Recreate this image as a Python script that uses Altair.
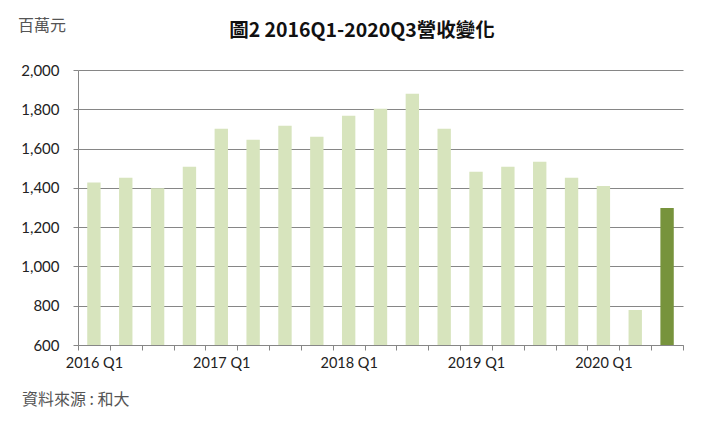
import altair as alt
import pandas as pd

quarters = [f"{y} Q{q}" for y in range(2016, 2021) for q in range(1, 5)][:19]
revenue = [1427, 1451, 1398, 1507, 1701, 1645, 1716, 1660, 1767, 1803,
           1879, 1701, 1482, 1507, 1533, 1451, 1410, 778, 1298]
y_ticks = [600, 800, 1000, 1200, 1400, 1600, 1800, 2000]
title_text = ["圖2 2016Q1-2020Q3營收變化"]
unit_text = ["百萬元"]
source_text = ["資料來源 : 和大"]

df = pd.DataFrame({"quarter": quarters, "revenue": revenue})

LATIN = "Lato"
CJK = "Noto Sans CJK TC"

bars = alt.Chart(df).mark_bar(width=alt.RelativeBandSize(0.42), clip=True).encode(
    x=alt.X("quarter:N", sort=quarters,
            scale=alt.Scale(paddingInner=0, paddingOuter=0),
            axis=alt.Axis(title=None, labelAngle=0, tickBand="extent",
                          labelExpr="indexof(datum.label, 'Q1') > 0 ? datum.label : ''",
                          labelFont=LATIN, labelFontSize=14.5, labelColor="#222",
                          labelPadding=6, labelOverlap=False,
                          domainColor="#868686", tickColor="#868686",
                          tickSize=5, grid=False)),
    y=alt.Y("revenue:Q",
            scale=alt.Scale(domain=[600, 2000], nice=False, zero=False),
            axis=alt.Axis(title=None, values=y_ticks, format=",.0f",
                          labelFont=LATIN, labelFontSize=15, labelColor="#222",
                          labelPadding=14, domainColor="#868686", tickColor="#868686",
                          tickSize=5, gridColor="#868686", gridWidth=1)),
    color=alt.condition(alt.datum.quarter == "2020 Q3",
                        alt.value("#77933c"), alt.value("#d7e4bd")),
)

title = alt.Chart(pd.DataFrame({"t": title_text})).mark_text(
    font=CJK, fontSize=19.5, fontWeight="bold", color="#111",
    align="center", baseline="middle").encode(
    x=alt.value(284), y=alt.value(-39), text="t:N")

unit = alt.Chart(pd.DataFrame({"t": unit_text})).mark_text(
    font=CJK, fontSize=16, color="#555", align="left",
    baseline="middle").encode(
    x=alt.value(-60), y=alt.value(-44), text="t:N")

source = alt.Chart(pd.DataFrame({"t": source_text})).mark_text(
    font=CJK, fontSize=16, color="#555", align="left",
    baseline="middle").encode(
    x=alt.value(-56), y=alt.value(330), text="t:N")

chart = alt.layer(bars, title, unit, source).properties(
    width=605, height=275,
    autosize=alt.AutoSizeParams(type="none"),
    padding={"left": 70, "top": 62, "right": 25, "bottom": 80},
).configure_view(stroke=None)

chart.save("out.html", embed_options={"renderer": "svg", "actions": False})
